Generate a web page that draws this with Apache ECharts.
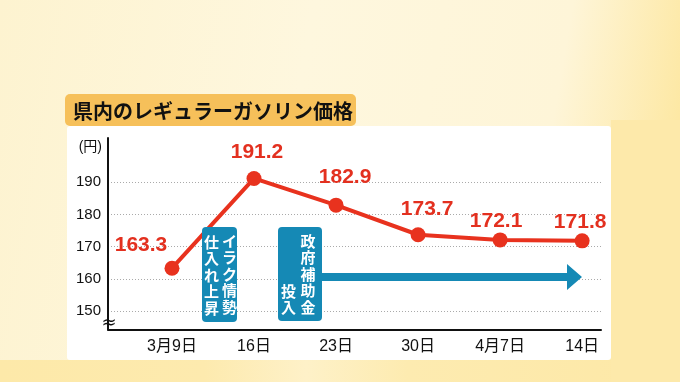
<!DOCTYPE html>
<html><head><meta charset="utf-8">
<script src="https://cdn.jsdelivr.net/npm/echarts@6/dist/echarts.min.js"></script>
<style>html,body{margin:0;padding:0;background:#fef6da;}#main{width:680px;height:382px;}</style>
</head><body><div id="main"></div>
<script>
// ---- data ----
const chartTitle = '県内のレギュラーガソリン価格';
const categories = ['3月9日', '16日', '23日', '30日', '4月7日', '14日'];
const prices = [163.3, 191.2, 182.9, 173.7, 172.1, 171.8];
const yTicks = [150, 160, 170, 180, 190];
const yUnit = '(円)';
const note1 = ['イラク情勢', '仕入れ上昇'];
const note2 = ['政府補助金', '投入'];

// ---- layout / style ----
const labelOffsets = [[-31, 0], [3, -3], [9, -5], [9, -3], [-4, 4], [-2, 4]];
const RED = '#e8321e';
const BLUE = '#1589b5';
const CJK = '"Liberation Sans", "Noto Sans CJK JP", sans-serif';

const chart = echarts.init(document.getElementById('main'), null, {renderer: 'canvas'});

const xIdx = categories.map((c, i) => i);
const seriesData = prices.map((v, i) => ({
  value: [i, v],
  label: {offset: labelOffsets[i]}
}));

function vtext(str) { return str.split('').join('\n'); }

const option = {
  animation: false,
  grid: {left: 108, right: 79, top: 138, bottom: 52.5, containLabel: false},
  xAxis: {
    type: 'value', min: -0.78, max: 5.23,
    axisLine: {show: true, onZero: false, lineStyle: {color: '#111', width: 2}},
    axisTick: {show: false, customValues: xIdx},
    splitLine: {show: false},
    axisLabel: {
      customValues: xIdx, margin: 9,
      formatter: v => categories[Math.round(v)],
      color: '#111', fontSize: 16, fontFamily: CJK
    }
  },
  yAxis: {
    type: 'value', min: 144.25, max: 203.77,
    axisLine: {show: true, onZero: false, lineStyle: {color: '#111', width: 2}},
    axisTick: {show: false, customValues: yTicks},
    splitLine: {show: true, lineStyle: {color: '#aaa', type: [1, 2], width: 1}},
    axisLabel: {customValues: yTicks, margin: 7, color: '#111', fontSize: 15, fontFamily: CJK}
  },
  series: [{
    type: 'line',
    data: seriesData,
    symbol: 'circle', symbolSize: 15,
    lineStyle: {color: RED, width: 4},
    itemStyle: {color: RED},
    z: 3,
    label: {
      show: true, position: 'top', distance: 5,
      color: '#e3301f', fontSize: 21, fontWeight: 'bold',
      fontFamily: '"Liberation Sans", sans-serif',
      formatter: p => p.value[1].toFixed(1)
    }
  }],
  graphic: [
    // background
    {type: 'rect', z: -20, shape: {x: 0, y: 0, width: 680, height: 382},
      style: {fill: new echarts.graphic.LinearGradient(0, 0, 1, 0.3, [
        {offset: 0, color: '#fdf3d0'}, {offset: 0.45, color: '#fef7de'},
        {offset: 0.82, color: '#fef5d8'}, {offset: 1, color: '#fde8a4'}])}},
    {type: 'rect', z: -19, shape: {x: 0, y: 360, width: 680, height: 22},
      style: {fill: new echarts.graphic.LinearGradient(0, 0, 1, 0, [
        {offset: 0, color: '#fde9a9'}, {offset: 0.3, color: '#fdeaae'},
        {offset: 0.45, color: '#fef1c8'}, {offset: 0.6, color: '#fdebb0'}, {offset: 1, color: '#fde8a6'}])}},
    {type: 'rect', z: -18, shape: {x: 611, y: 120, width: 69, height: 262},
      style: {fill: '#fde9aa'}},
    // white panel
    {type: 'rect', z: -15, shape: {x: 67, y: 126, width: 544, height: 234, r: 3},
      style: {fill: '#ffffff'}},
    // title box
    {type: 'rect', z: -14, shape: {x: 65, y: 94, width: 291, height: 32, r: 5},
      style: {fill: '#f6c05a'}},
    {type: 'text', z: 20, x: 73, y: 111,
      style: {text: chartTitle, fill: '#111', fontSize: 20, fontWeight: 'bold',
        fontFamily: '"Noto Sans CJK JP", sans-serif', verticalAlign: 'middle', align: 'left'}},
    // unit
    {type: 'text', z: 20, x: 102, y: 147,
      style: {text: yUnit, fill: '#111', fontSize: 14, fontFamily: CJK, align: 'right', verticalAlign: 'middle'}},
    // axis break mark
    {type: 'text', z: 20, x: 109, y: 323,
      style: {text: '≈', fill: '#111', fontSize: 18, fontFamily: 'DejaVu Sans', align: 'center', verticalAlign: 'middle'}},
    // note box 1
    {type: 'rect', z: 20, shape: {x: 202, y: 227, width: 35, height: 95, r: 4}, style: {fill: BLUE}},
    {type: 'text', z: 21, x: 229.5, y: 274,
      style: {text: vtext(note1[0]), fill: '#fff', fontSize: 15, fontWeight: 'bold', lineHeight: 16.6,
        fontFamily: '"Noto Sans CJK JP", sans-serif', align: 'center', verticalAlign: 'middle'}},
    {type: 'text', z: 21, x: 211.5, y: 275,
      style: {text: vtext(note1[1]), fill: '#fff', fontSize: 15, fontWeight: 'bold', lineHeight: 16.6,
        fontFamily: '"Noto Sans CJK JP", sans-serif', align: 'center', verticalAlign: 'middle'}},
    // note box 2
    {type: 'rect', z: 20, shape: {x: 278, y: 227, width: 44, height: 94, r: 4}, style: {fill: BLUE}},
    {type: 'text', z: 21, x: 308, y: 274,
      style: {text: vtext(note2[0]), fill: '#fff', fontSize: 15, fontWeight: 'bold', lineHeight: 16.6,
        fontFamily: '"Noto Sans CJK JP", sans-serif', align: 'center', verticalAlign: 'middle'}},
    {type: 'text', z: 21, x: 288.5, y: 316,
      style: {text: vtext(note2[1]), fill: '#fff', fontSize: 15, fontWeight: 'bold', lineHeight: 16.6,
        fontFamily: '"Noto Sans CJK JP", sans-serif', align: 'center', verticalAlign: 'bottom'}},
    // arrow
    {type: 'polygon', z: 20,
      shape: {points: [[321, 273], [567, 273], [567, 264], [582, 277], [567, 290], [567, 281], [321, 281]]},
      style: {fill: BLUE}}
  ]
};
chart.setOption(option);
</script>
</body></html>
